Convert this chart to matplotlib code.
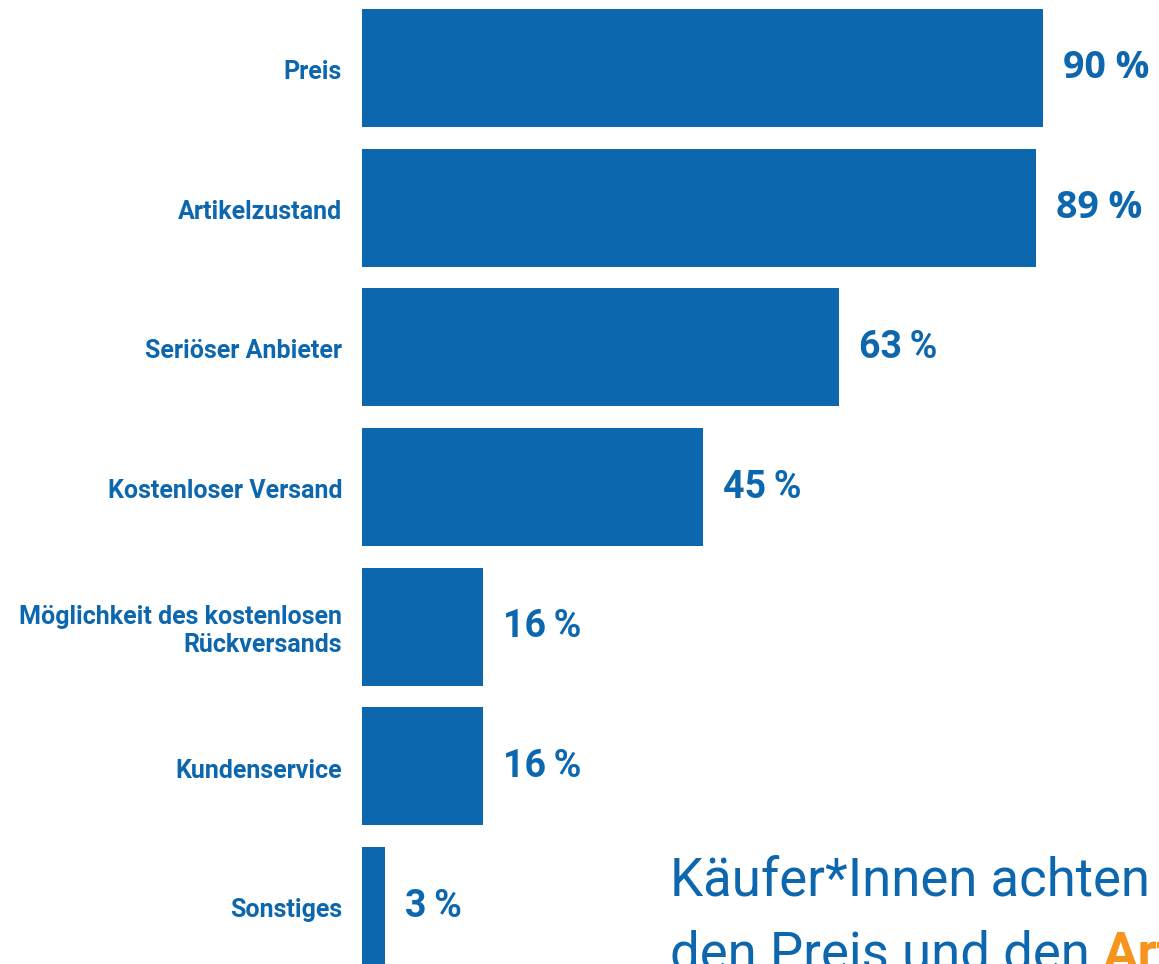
import matplotlib.pyplot as plt
import numpy as np

categories = ['Preis', 'Artikelzustand', 'Seriöser Anbieter', 'Kostenloser Versand',
              'Möglichkeit des kostenlosen\nRückversands', 'Kundenservice', 'Sonstiges']
values = [90, 89, 63, 45, 16, 16, 3]
value_labels = ['90 %', '89 %', '63\u2009%', '45\u2009%', '16\u2009%', '16\u2009%', '3\u2009%']

blue = '#0d67ae'
orange = '#f7941d'

W, H = 1159, 964
fig = plt.figure(figsize=(W / 100, H / 100), dpi=100)

# axes starts where the bars start
left = 362
scale = 7.57  # px per percent
ax = fig.add_axes([left / W, 0, 1 - left / W, 1])
ax.set_xlim(0, (W - left) / scale)
step = 139.7
ax.set_ylim((H - 68) / step, -68 / step)

y = np.arange(len(categories))
ax.barh(y, values, height=118 / step, color=blue)
ax.axis('off')

for i, (v, lab) in enumerate(zip(values, value_labels)):
    fam = 'Open Sans' if i < 2 else 'Roboto'
    ax.text(v + 20 / scale, i, lab, va='center', ha='left', fontsize=27,
            fontweight='bold', color=blue, family=fam)
    ax.text(-20 / scale, i + 4 / step, categories[i], va='center', ha='right', fontsize=18,
            fontweight='bold', color=blue, family='Roboto', linespacing=1.2)

fig.text(670 / W, 1 - 895 / H, 'Käufer*Innen achten', fontsize=38, color=blue,
         family='Roboto', ha='left', va='baseline')
t = fig.text(670 / W, 1 - 970 / H, 'den Preis und den ', fontsize=38, color=blue,
             family='Roboto', ha='left', va='baseline')
fig.canvas.draw()
bb = t.get_window_extent()
fig.text(bb.x1 / W, 1 - 970 / H, 'Artikelzustand', fontsize=38, color=orange,
         family='Roboto', fontweight='bold', ha='left', va='baseline')

fig.savefig('out.png', dpi=100)
